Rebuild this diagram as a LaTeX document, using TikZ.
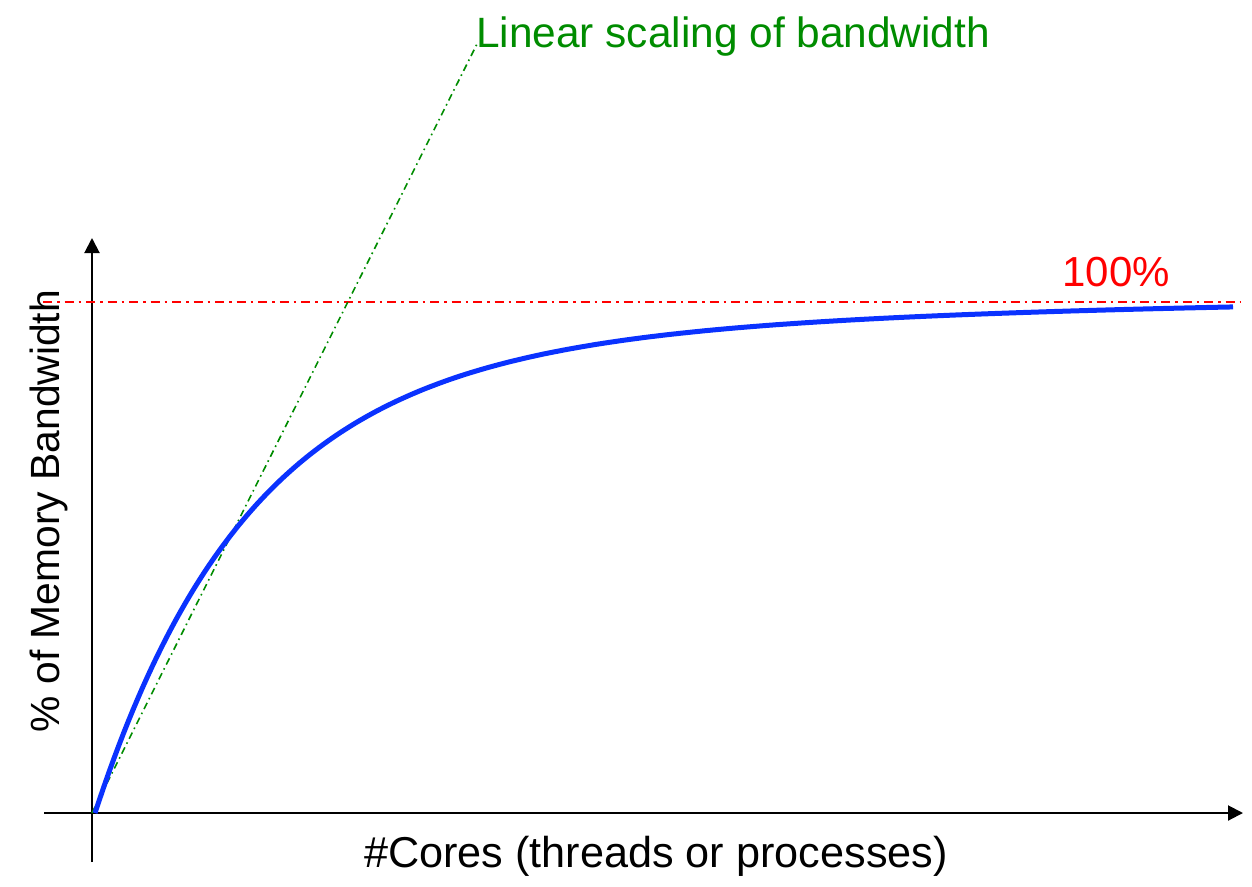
\documentclass[tikz,border=0pt]{standalone}
\usepackage{fontspec}
\setmainfont{Liberation Sans}
\usetikzlibrary{arrows.meta}
\definecolor{curveblue}{RGB}{10,50,255}
\definecolor{lingreen}{RGB}{0,140,0}
\definecolor{limitred}{RGB}{255,0,0}
\begin{document}
\begin{tikzpicture}[x=1pt,y=-1pt,
  axis/.style={line width=2pt,-{Triangle[length=15pt,width=15pt]}},
  limitline/.style={limitred,line width=2.2pt,dash pattern=on 9pt off 5pt on 2.5pt off 5pt},
  linearline/.style={lingreen,line width=1.6pt,dash pattern=on 7pt off 4pt on 1.6pt off 4pt},
  bwcurve/.style={curveblue,line width=5pt},
  lbl/.style={inner sep=0pt,anchor=base}]
\useasboundingbox (0,0) rectangle (1252,886);

% axes
\coordinate (O) at (92,813);
\coordinate (ybot) at (92,862);
\coordinate (ytop) at (92,238);
\coordinate (xleft) at (44,813);
\coordinate (xright) at (1243,813);
\draw[axis] (ybot) -- (ytop);
\draw[axis] (xleft) -- (xright);

% 100% limit
\coordinate (limL) at (43,302);
\coordinate (limR) at (1240,302);
\draw[limitline] (limL) -- (limR);

% ideal linear scaling
\coordinate (linEnd) at (478,42);
\draw[linearline] (O) -- (linEnd);

% saturating bandwidth curve (sum of two exponential approaches)
\draw[bwcurve,line join=round] plot[domain=0:1138,samples=240]
  ({95+\x},{813-440*(1-exp(-\x/150))-78*(1-exp(-\x/600))});

% labels
\node[lbl,text=lingreen,anchor=base west,font=\fontsize{42.4}{50}\selectfont] (lintext) at (476,47) {Linear scaling of bandwidth};
\node[lbl,text=limitred,font=\fontsize{42}{50}\selectfont] (limtext) at (1116,286) {100\%};
\node[lbl,font=\fontsize{43.2}{50}\selectfont] (xlabel) at (656,867) {\#Cores (threads or processes)};
\node[lbl,rotate=90,font=\fontsize{40.8}{50}\selectfont] (ylabel) at (59,511) {\% of Memory Bandwidth};
\end{tikzpicture}
\end{document}
